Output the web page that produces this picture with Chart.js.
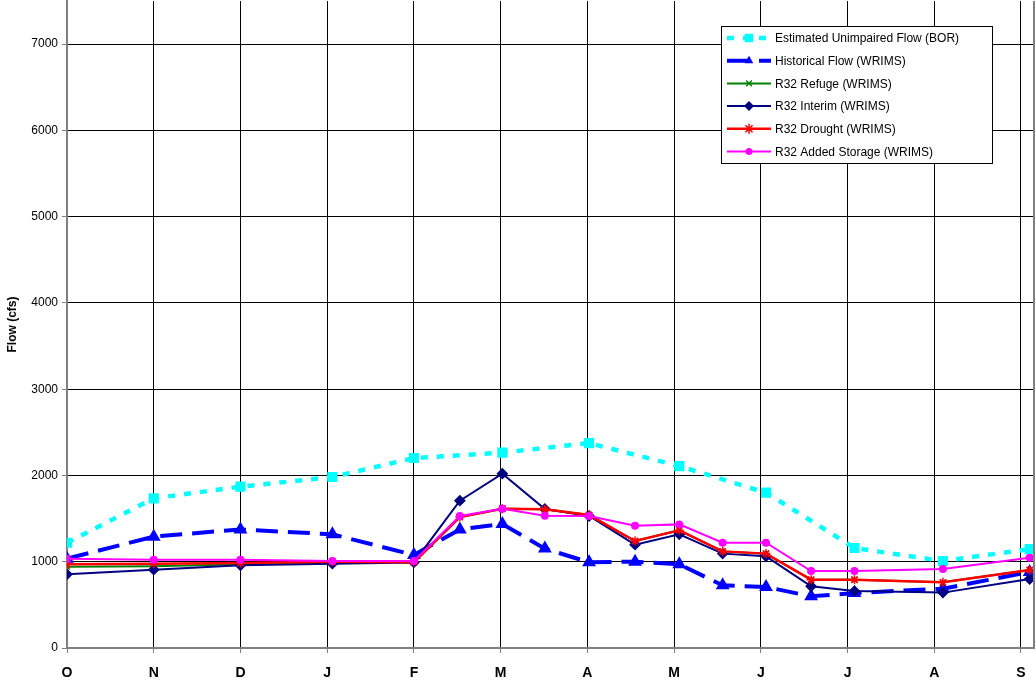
<!DOCTYPE html>
<html>
<head>
<meta charset="utf-8">
<script src="https://cdn.jsdelivr.net/npm/chart.js"></script>
<style>
  html, body { margin: 0; padding: 0; background: #fff; }
  #wrap { width: 1036px; height: 681px; }
</style>
</head>
<body>
<div id="wrap"><canvas id="flow-chart" width="1036" height="681"></canvas></div>
<script>
// month labels on the x axis (one per gridline)
const monthLabels = ['O', 'N', 'D', 'J', 'F', 'M', 'A', 'M', 'J', 'J', 'A', 'S'];
const yTicks = [0, 1000, 2000, 3000, 4000, 5000, 6000, 7000];

// x positions (in months from 1 Oct) of the monthly and semi-monthly time steps
const monthlyX = [0, 1, 2, 3.06, 4, 5.02, 6.02, 7.06, 8.06, 9.08, 10.1, 11.1];
const semiX = [0, 1, 2, 3.06, 4, 4.53, 5.02, 5.51, 6.02, 6.55, 7.06, 7.56, 8.06, 8.58, 9.08, 10.1, 11.1];

// flows, cfs
const unimpaired = [1220, 1735, 1870, 1982, 2202, 2264, 2375, 2109, 1801, 1159, 1008, 1147];
const historical = [1036, 1291, 1375, 1318, 1078, 1375, 1437, 1152, 993, 1001, 970, 727, 707, 599, 637, 688, 881];
const refuge     = [942, 947, 970, 995, 995, 1518, 1615, 1607, 1541, 1240, 1364, 1120, 1094, 792, 792, 761, 904];
const interim    = [854, 908, 958, 978, 992, 1708, 2021, 1611, 1530, 1198, 1318, 1094, 1063, 715, 660, 642, 800];
const drought    = [970, 978, 985, 1000, 995, 1518, 1615, 1607, 1541, 1240, 1364, 1120, 1094, 792, 792, 761, 904];
const added      = [1036, 1024, 1024, 1008, 1008, 1530, 1615, 1534, 1530, 1418, 1433, 1221, 1221, 892, 892, 915, 1047];

function pts(xs, ys) {
  return ys.map((y, i) => ({ x: xs[i], y: y }));
}

function drawMarker(ctx, style, x, y, r, color) {
  ctx.save();
  ctx.fillStyle = color;
  ctx.strokeStyle = color;
  ctx.lineWidth = 1.5;
  ctx.setLineDash([]);
  ctx.beginPath();
  if (style === 'rect') {
    const s = r * Math.SQRT1_2;
    ctx.rect(x - s, y - s, 2 * s, 2 * s);
    ctx.fill();
  } else if (style === 'triangle') {
    ctx.moveTo(x, y - r);
    ctx.lineTo(x + r * 0.87, y + r * 0.5);
    ctx.lineTo(x - r * 0.87, y + r * 0.5);
    ctx.closePath();
    ctx.fill();
  } else if (style === 'rectRot') {
    ctx.moveTo(x, y - r);
    ctx.lineTo(x + r, y);
    ctx.lineTo(x, y + r);
    ctx.lineTo(x - r, y);
    ctx.closePath();
    ctx.fill();
  } else if (style === 'circle') {
    ctx.arc(x, y, r, 0, Math.PI * 2);
    ctx.fill();
  } else if (style === 'crossRot') {
    const s = r * Math.SQRT1_2;
    ctx.moveTo(x - s, y - s); ctx.lineTo(x + s, y + s);
    ctx.moveTo(x + s, y - s); ctx.lineTo(x - s, y + s);
    ctx.stroke();
  } else if (style === 'star') {
    const s = r * Math.SQRT1_2;
    ctx.moveTo(x - s, y - s); ctx.lineTo(x + s, y + s);
    ctx.moveTo(x + s, y - s); ctx.lineTo(x - s, y + s);
    ctx.moveTo(x, y - r); ctx.lineTo(x, y + r);
    ctx.moveTo(x - r, y); ctx.lineTo(x + r, y);
    ctx.stroke();
  }
  ctx.restore();
}

// legend box drawn inside the plot, top right
const boxLegend = {
  id: 'boxLegend',
  afterDraw(chart) {
    const ctx = chart.ctx;
    const left = 721, top = 26, w = 271, h = 137;
    ctx.save();
    ctx.fillStyle = '#fff';
    ctx.fillRect(left, top, w, h);
    ctx.strokeStyle = '#000';
    ctx.lineWidth = 1;
    ctx.strokeRect(left + 0.5, top + 0.5, w, h);
    ctx.font = '12px "Liberation Sans", Arial, sans-serif';
    ctx.textBaseline = 'middle';
    chart.data.datasets.forEach((ds, i) => {
      const y = top + 12 + i * 22.7;
      ctx.save();
      ctx.strokeStyle = ds.borderColor;
      ctx.lineWidth = ds.borderWidth;
      ctx.setLineDash(ds.borderDash || []);
      ctx.beginPath();
      ctx.moveTo(727, y);
      ctx.lineTo(771, y);
      ctx.stroke();
      ctx.restore();
      drawMarker(ctx, ds.pointStyle, 749, y, ds.legendRadius, ds.pointBackgroundColor);
      ctx.fillStyle = '#000';
      ctx.fillText(ds.label, 775, y + 1);
    });
    // right edge of the plot area
    const a = chart.chartArea;
    ctx.strokeStyle = '#808080';
    ctx.lineWidth = 2;
    ctx.beginPath();
    ctx.moveTo(a.right, a.top);
    ctx.lineTo(a.right, a.bottom);
    ctx.stroke();
    ctx.restore();
  }
};

new Chart(document.querySelector('#flow-chart').getContext('2d'), {
  type: 'line',
  data: {
    datasets: [
      {
        label: 'Estimated Unimpaired Flow (BOR)',
        data: pts(monthlyX, unimpaired),
        borderColor: '#00ffff', backgroundColor: '#00ffff',
        pointBackgroundColor: '#00ffff', pointBorderColor: '#00ffff',
        borderWidth: 4.5, borderDash: [7, 9],
        pointStyle: 'rect', pointRadius: 4, legendRadius: 6, order: 6
      },
      {
        label: 'Historical Flow (WRIMS)',
        data: pts(semiX, historical),
        borderColor: '#0000ff', backgroundColor: '#0000ff',
        pointBackgroundColor: '#0000ff', pointBorderColor: '#0000ff',
        borderWidth: 4, borderDash: [22, 10],
        pointStyle: 'triangle', pointRadius: 4, legendRadius: 5, order: 5
      },
      {
        label: 'R32 Refuge (WRIMS)',
        data: pts(semiX, refuge),
        borderColor: '#008000', backgroundColor: '#008000',
        pointBackgroundColor: '#008000', pointBorderColor: '#008000',
        borderWidth: 2, pointBorderWidth: 1.5,
        pointStyle: 'crossRot', pointRadius: 4, legendRadius: 4, order: 4
      },
      {
        label: 'R32 Interim (WRIMS)',
        data: pts(semiX, interim),
        borderColor: '#000080', backgroundColor: '#000080',
        pointBackgroundColor: '#000080', pointBorderColor: '#000080',
        borderWidth: 2,
        pointStyle: 'rectRot', pointRadius: 4.5, legendRadius: 5, order: 3
      },
      {
        label: 'R32 Drought (WRIMS)',
        data: pts(semiX, drought),
        borderColor: '#ff0000', backgroundColor: '#ff0000',
        pointBackgroundColor: '#ff0000', pointBorderColor: '#ff0000',
        borderWidth: 2.5, pointBorderWidth: 1.5,
        pointStyle: 'star', pointRadius: 4.5, legendRadius: 5, order: 2
      },
      {
        label: 'R32 Added Storage (WRIMS)',
        data: pts(semiX, added),
        borderColor: '#ff00ff', backgroundColor: '#ff00ff',
        pointBackgroundColor: '#ff00ff', pointBorderColor: '#ff00ff',
        borderWidth: 2,
        pointStyle: 'circle', pointRadius: 3, legendRadius: 3.5, order: 1
      }
    ]
  },
  options: {
    responsive: false,
    animation: false,
    layout: { autoPadding: false, padding: { left: 0, right: 2, top: 1, bottom: 0 } },
    plugins: {
      legend: { display: false },
      tooltip: { enabled: false }
    },
    elements: { line: { tension: 0 } },
    scales: {
      x: {
        type: 'linear',
        min: 0,
        max: 11.15,
        afterBuildTicks: s => { s.ticks = monthLabels.map((m, i) => ({ value: i })); },
        afterFit: s => { s.height = 33; s.paddingLeft = 0; s.paddingRight = 0; },
        ticks: {
          autoSkip: false,
          maxRotation: 0,
          padding: 12,
          color: '#000',
          font: { family: '"Liberation Sans", Arial, sans-serif', size: 14, weight: 'bold' },
          callback: (v, i) => monthLabels[i]
        },
        grid: { color: '#000', lineWidth: 1, tickLength: 5, tickColor: '#808080' },
        border: { color: '#808080', width: 2 }
      },
      y: {
        min: 0,
        max: 7500,
        afterBuildTicks: s => { s.ticks = yTicks.map(v => ({ value: v })); },
        afterFit: s => { s.width = 67; s.paddingTop = 0; s.paddingBottom = 0; },
        ticks: {
          padding: 4,
          color: '#000',
          font: { family: '"Liberation Sans", Arial, sans-serif', size: 12 },
          callback: v => String(v)
        },
        grid: { color: '#000', lineWidth: 1, tickLength: 5, tickColor: '#808080' },
        border: { color: '#808080', width: 2 },
        title: {
          display: true,
          text: 'Flow (cfs)',
          color: '#000',
          padding: { top: 5, bottom: 0 },
          font: { family: '"Liberation Sans", Arial, sans-serif', size: 12, weight: 'bold' }
        }
      }
    }
  },
  plugins: [boxLegend]
});
</script>
</body>
</html>
